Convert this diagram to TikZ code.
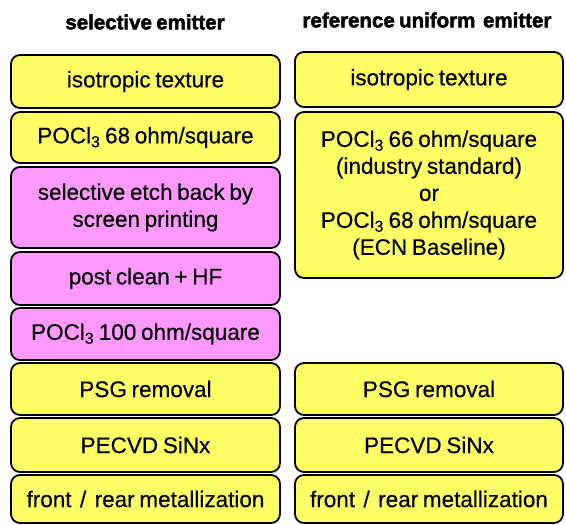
\documentclass[tikz,border=0pt]{standalone}
\usepackage{fontspec}
\setmainfont{Liberation Sans}[WordSpace=0.75,FakeBold=0.4,BoldFeatures={FakeBold=2.2}]
\definecolor{boxyellow}{RGB}{255,255,102}
\definecolor{boxpink}{RGB}{255,153,255}
\newcommand{\sub}[1]{\textsubscript{#1}}
\begin{document}
\begin{tikzpicture}[x=1pt,y=-1pt,
  stepbox/.style={draw=black,line width=1.8pt,rounded corners=9pt,inner sep=0pt,
    align=center,font=\fontsize{22.5}{27}\selectfont,text=black},
  ybox/.style={stepbox,fill=boxyellow},
  pbox/.style={stepbox,fill=boxpink},
  title/.style={font=\fontsize{20.5}{24}\selectfont\bfseries,inner sep=0pt}]
\useasboundingbox (0,0) rectangle (566,525);
% titles
\node[title] (t1) at (145,22) {selective emitter};
\node[title] (t2) at (427,20) {reference uniform\, emitter};
% left column: x 11--280
\node[ybox,minimum width=269pt,minimum height=53pt] (l1) at (145.5,81.5) {isotropic texture};
\node[ybox,minimum width=269pt,minimum height=51pt] (l2) at (145.5,137.5) {POCl\sub{3} 68 ohm/square};
\node[pbox,minimum width=269pt,minimum height=81pt] (l3) at (145.5,207.5) {selective etch back by\\screen printing};
\node[pbox,minimum width=269pt,minimum height=53pt] (l4) at (145.5,278.5) {post clean + HF};
\node[pbox,minimum width=269pt,minimum height=52pt] (l5) at (145.5,334) {POCl\sub{3} 100 ohm/square};
\node[ybox,minimum width=269pt,minimum height=52pt] (l6) at (145.5,389) {PSG removal};
\node[ybox,minimum width=269pt,minimum height=54pt] (l7) at (145.5,445) {PECVD SiNx};
\node[ybox,minimum width=269pt,minimum height=48pt] (l8) at (145.5,499) {front\, /\, rear metallization};
% right column: x 295--563
\node[ybox,minimum width=268pt,minimum height=55pt] (r1) at (429,79.5) {isotropic texture};
\node[ybox,minimum width=268pt,minimum height=166pt] (r2) at (429,195) {POCl\sub{3} 66 ohm/square\\(industry standard)\\or\\POCl\sub{3} 68 ohm/square\\(ECN Baseline)};
\node[ybox,minimum width=268pt,minimum height=52pt] (r6) at (429,389) {PSG removal};
\node[ybox,minimum width=268pt,minimum height=54pt] (r7) at (429,445) {PECVD SiNx};
\node[ybox,minimum width=268pt,minimum height=48pt] (r8) at (429,499) {front\, /\, rear metallization};
\end{tikzpicture}
\end{document}
